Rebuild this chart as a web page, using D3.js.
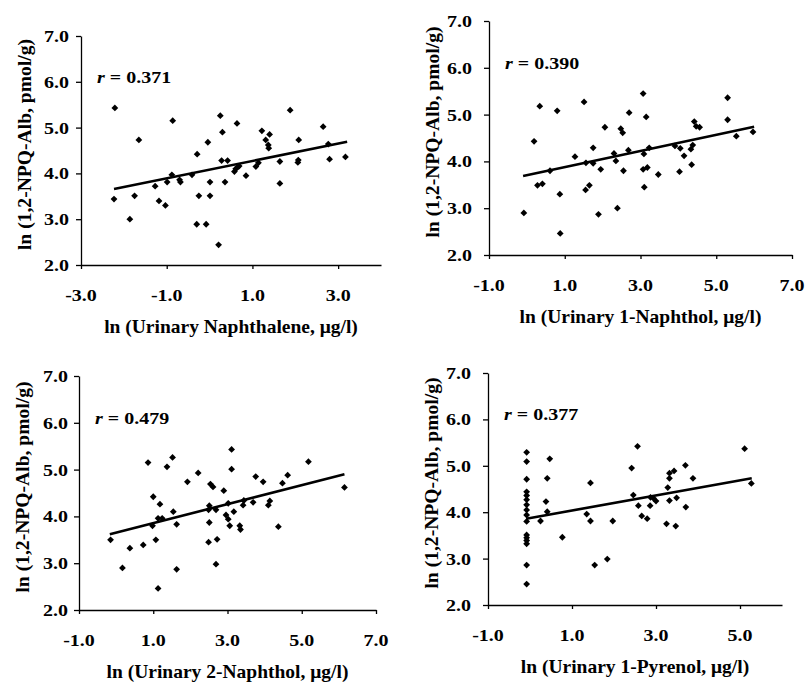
<!DOCTYPE html>
<html>
<head>
<meta charset="utf-8">
<script src="https://cdn.jsdelivr.net/npm/d3@7"></script>
<style>
  body { margin: 0; background: #fff; }
  svg { display: block; }
  text { font-family: "Liberation Serif", "Times New Roman", serif; font-weight: bold; fill: #000; }
</style>
</head>
<body>
<div id="chart"></div>
<script>
// values, ln units
var naphX = [-2.21, -2.23, -1.75, -1.86, -1.65, -1.27, -1.18, -1.03, -0.99, -0.86, -0.88, -0.70, -0.68, -0.41, -0.29, -0.25, -0.30, -0.08, -0.04, 0.01,
             0.01, 0.21, 0.25, 0.30, 0.28, 0.42, 0.36, 0.64, 0.58, 0.61, 0.65, 0.69, 0.85, 1.08, 1.14, 1.22, 1.31, 1.40, 1.37, 1.38,
             1.64, 1.64, 1.88, 2.08, 2.07, 2.06, 2.65, 2.77, 2.80, 3.17]
var naphY = [5.43, 3.44, 3.51, 3.00, 4.73, 3.72, 3.40, 3.30, 3.81, 5.15, 3.97, 3.86, 3.81, 3.97, 4.42, 3.51, 2.89, 2.89, 4.68, 3.81,
             3.51, 2.44, 5.26, 4.90, 4.28, 4.28, 3.81, 5.09, 4.04, 4.10, 4.13, 4.16, 3.95, 4.15, 4.23, 4.93, 4.73, 4.85, 4.62, 4.55,
             4.26, 3.78, 5.38, 4.73, 4.29, 4.24, 5.02, 4.64, 4.31, 4.36]

var n1X = [-0.08, 0.19, 0.34, 0.28, 0.41, 0.61, 0.87, 0.88, 0.80, 1.27, 1.51, 1.56, 1.55, 1.65, 1.75, 1.75, 1.89, 1.95, 2.06, 2.30,
           2.35, 2.39, 2.48, 2.53, 2.55, 2.68, 2.70, 3.07, 3.15, 3.09, 3.07, 3.18, 3.10, 3.23, 3.47, 3.91, 4.05, 4.03, 4.15, 4.35,
           4.33, 4.38, 4.42, 4.47, 4.56, 5.30, 5.30, 5.53, 5.97]
var n1Y = [2.90, 4.43, 5.18, 3.49, 3.52, 3.80, 3.30, 2.46, 5.08, 4.10, 5.27, 3.97, 3.39, 3.49, 4.29, 3.96, 2.87, 3.83, 4.73, 4.17,
           4.01, 3.00, 4.70, 4.61, 3.80, 4.24, 5.04, 5.45, 4.95, 4.16, 3.83, 3.87, 3.45, 4.29, 3.72, 4.33, 4.28, 3.78, 4.12, 3.93,
           4.26, 4.35, 4.85, 4.75, 4.73, 5.36, 4.89, 4.54, 4.63]

var n2X = [-0.15, 0.17, 0.37, 0.73, 0.86, 1.00, 0.98, 1.07, 1.13, 1.18, 1.13, 1.24, 1.37, 1.52, 1.54, 1.63, 1.63, 1.92, 2.21, 2.49,
           2.51, 2.49, 2.51, 2.54, 2.61, 2.69, 2.69, 2.72, 2.90, 2.96, 3.02, 3.02, 3.06, 3.11, 3.11, 3.17, 3.33, 3.35, 3.42, 3.44,
           3.69, 3.76, 3.96, 4.10, 4.14, 4.37, 4.48, 4.62, 5.18, 6.15]
var n2Y = [3.50, 2.90, 3.32, 3.39, 5.15, 4.42, 3.80, 3.50, 2.46, 4.26, 3.96, 3.96, 5.06, 5.26, 4.10, 3.83, 2.87, 4.74, 4.93, 3.45,
           4.23, 4.14, 3.87, 4.69, 4.63, 4.14, 2.98, 3.51, 4.55, 4.03, 3.94, 4.28, 3.80, 5.43, 5.01, 4.10, 3.80, 3.72, 4.24, 4.34,
           4.30, 4.85, 4.74, 4.24, 4.33, 3.78, 4.71, 4.88, 5.17, 4.62]

var pyrX = [-0.08, -0.08, -0.08, -0.08, -0.08, -0.08, -0.08, -0.08, -0.08, -0.08, -0.08, -0.08, -0.08, -0.08, -0.08, -0.08,
            0.25, 0.38, 0.41, 0.41, 0.47, 0.77, 1.35, 1.44, 1.44, 1.54, 1.84, 1.97, 2.42, 2.56, 2.46, 2.58, 2.66, 2.79, 2.86,
            2.87, 2.94, 3.00, 3.25, 3.28, 3.32, 3.32, 3.32, 3.43, 3.47, 3.49, 3.70, 3.71, 3.88, 5.11, 5.27]
var pyrY = [5.29, 5.09, 4.71, 4.44, 4.36, 4.27, 4.16, 4.05, 3.94, 3.80, 3.51, 3.45, 3.39, 3.32, 2.86, 2.45,
            3.81, 4.23, 4.01, 4.73, 5.15, 3.46, 3.96, 4.63, 3.81, 2.86, 2.99, 3.81, 4.95, 5.42, 4.37, 4.14, 3.92, 3.86, 4.14,
            4.32, 4.30, 4.24, 3.75, 4.53, 4.84, 4.73, 4.25, 4.89, 3.70, 4.31, 5.01, 4.11, 4.73, 5.37, 4.62]

// fitted lines: [x0, y0, x1, y1]
var naphFit = [-2.23, 3.66, 3.21, 4.69]
var n1Fit = [-0.10, 3.69, 6.00, 4.74]
var n2Fit = [-0.17, 3.62, 6.15, 4.90]
var pyrFit = [-0.09, 3.86, 5.28, 4.73]

var rValues = ["0.371", "0.390", "0.479", "0.377"]
var xTitles = ["ln (Urinary Naphthalene, \u03bcg/l)", "ln (Urinary 1-Naphthol, \u03bcg/l)",
               "ln (Urinary 2-Naphthol, \u03bcg/l)", "ln (Urinary 1-Pyrenol, \u03bcg/l)"]
var yTitle = "ln (1,2-NPQ-Alb, pmol/g)"
var yTicks = [2, 3, 4, 5, 6, 7]
var xTicksNaph = [-3, -1, 1, 3]
var xTicksN1 = [-1, 1, 3, 5, 7]
var xTicksN2 = [-1, 1, 3, 5, 7]
var xTicksPyr = [-1, 1, 3, 5]

var panels = [
  {xs: naphX, ys: naphY, fit: naphFit, r: rValues[0], title: xTitles[0], xDomain: [-3, 4], xTicks: xTicksNaph,
   left: 81, right: 381, top: 36, bottom: 265, gap: 12},
  {xs: n1X, ys: n1Y, fit: n1Fit, r: rValues[1], title: xTitles[1], xDomain: [-1, 7], xTicks: xTicksN1,
   left: 489, right: 792, top: 21, bottom: 255, gap: 17},
  {xs: n2X, ys: n2Y, fit: n2Fit, r: rValues[2], title: xTitles[2], xDomain: [-1, 7], xTicks: xTicksN2,
   left: 79, right: 376, top: 376, bottom: 610, gap: 11},
  {xs: pyrX, ys: pyrY, fit: pyrFit, r: rValues[3], title: xTitles[3], xDomain: [-1, 6], xTicks: xTicksPyr,
   left: 488, right: 782, top: 373, bottom: 605, gap: 17}
]

var width = 805, height = 682
// one decimal, plain hyphen for negatives as in the figure
var fmt = function(d) { return d3.format(".1f")(d).replace("\u2212", "-") }
var squash = "scale(1,0.88)"

var svg = d3.select("#chart")
  .append("svg")
    .attr("width", width)
    .attr("height", height)

svg.append("rect").attr("width", width).attr("height", height).attr("fill", "#fff")

var diamond = d3.symbol().type(d3.symbolSquare).size(23)

panels.forEach(function(p) {
  var x = d3.scaleLinear().domain(p.xDomain).range([p.left, p.right])
  var y = d3.scaleLinear().domain([2, 7]).range([p.bottom, p.top])
  var g = svg.append("g")

  // axes: lines and ticks from d3, labels drawn separately
  g.append("g")
    .attr("transform", "translate(0," + p.bottom + ")")
    .call(d3.axisBottom(x).tickValues(p.xTicks).tickSize(4).tickSizeOuter(0).tickFormat(""))
  g.append("g")
    .attr("transform", "translate(" + p.left + ",0)")
    .call(d3.axisLeft(y).tickValues(yTicks).tickSize(5).tickSizeOuter(0).tickFormat(""))
  g.selectAll(".domain, .tick line").attr("stroke", "#000").attr("stroke-width", 1.3)

  g.selectAll("yLab")
    .data(yTicks)
    .enter()
    .append("text")
      .attr("transform", function(d) { return "translate(" + (p.left - p.gap) + "," + (y(d) + 6) + ")" + squash })
      .attr("text-anchor", "end")
      .style("font-size", "20px")
      .text(fmt)

  g.selectAll("xLab")
    .data(p.xTicks)
    .enter()
    .append("text")
      .attr("transform", function(d) { return "translate(" + x(d) + "," + (p.bottom + 36) + ")" + squash })
      .attr("text-anchor", "middle")
      .style("font-size", "20px")
      .text(fmt)

  // axis titles
  g.append("text")
    .attr("x", (p.left + p.right) / 2)
    .attr("y", p.bottom + 68)
    .attr("text-anchor", "middle")
    .style("font-size", "19.5px")
    .text(p.title)

  g.append("text")
    .attr("transform", "translate(" + (p.left - 50) + "," + ((p.top + p.bottom) / 2 - 6) + ")rotate(-90)")
    .attr("text-anchor", "middle")
    .style("font-size", "19.6px")
    .text(yTitle)

  // r annotation
  var rt = g.append("text")
    .attr("transform", "translate(" + (p.left + 16) + "," + (y(6) + 1) + ")" + squash)
    .style("font-size", "20px")
  rt.append("tspan").style("font-style", "italic").text("r")
  rt.append("tspan").text(" = " + p.r)

  // regression line
  g.append("line")
    .attr("x1", x(p.fit[0])).attr("y1", y(p.fit[1]))
    .attr("x2", x(p.fit[2])).attr("y2", y(p.fit[3]))
    .attr("stroke", "#000")
    .attr("stroke-width", 2.6)

  // points
  g.selectAll("pts")
    .data(p.xs.map(function(v, i) { return [v, p.ys[i]] }))
    .enter()
    .append("path")
      .attr("d", diamond)
      .attr("transform", function(d) { return "translate(" + x(d[0]) + "," + y(d[1]) + ")rotate(45)" })
      .attr("fill", "#000")
})
</script>
</body>
</html>
